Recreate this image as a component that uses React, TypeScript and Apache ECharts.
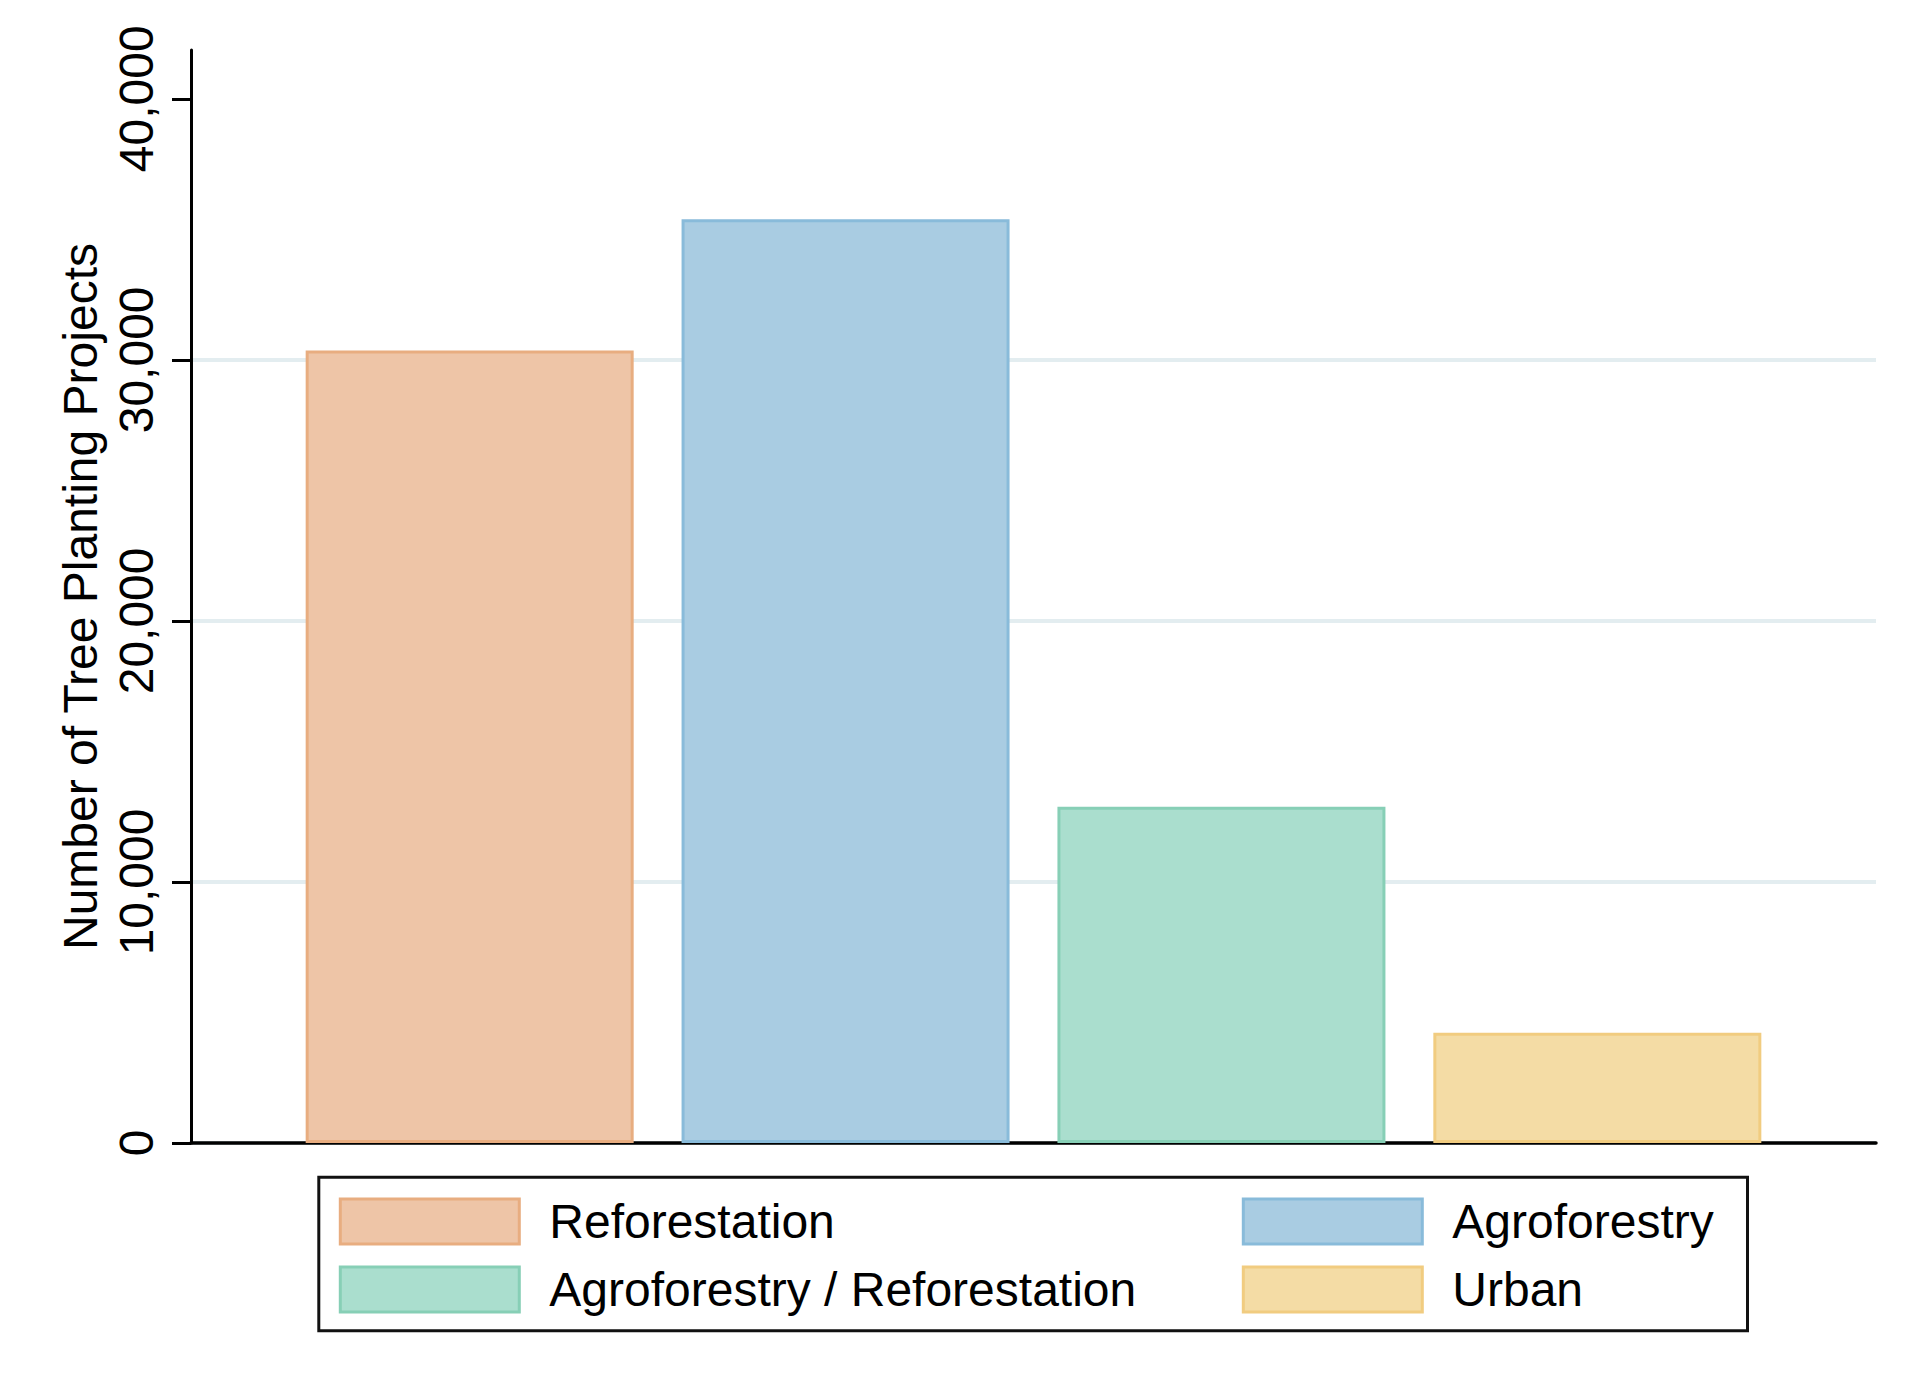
import React, { useEffect, useRef } from "react";
import * as echarts from "echarts";

const categories = ["Tree planting projects"];
const seriesNames = ["Reforestation", "Agroforestry", "Agroforestry / Reforestation", "Urban"];
const seriesValues = [30360, 35390, 12880, 4220];
const yTicks = [0, 10000, 20000, 30000, 40000];
const yMax = 41870;
const fillColors = ["#eec5a7", "#a9cce2", "#aadece", "#f4dca5"];
const borderColors = ["#e8ad80", "#89bbda", "#87cfb6", "#f1cc80"];

const FONT = '"Liberation Sans", Arial, Helvetica, sans-serif';

export default function App() {
  const ref = useRef<HTMLDivElement>(null);

  useEffect(() => {
    document.body.style.margin = "0";
    if (!ref.current) return;
    const chart = echarts.init(ref.current, null, { renderer: "svg" });

    const legendCommon = {
      orient: "vertical",
      icon: "rect",
      itemWidth: 179,
      itemHeight: 45,
      itemGap: 20,
      padding: 0,
      selectedMode: false,
      itemStyle: { borderWidth: 3 },
      textStyle: {
        fontSize: 48,
        fontFamily: FONT,
        color: "#000",
        padding: [0, 0, 0, 25],
      },
    };

    const option: any = {
      animation: false,
      backgroundColor: "#fff",
      grid: { left: 191, right: 50, top: 50, bottom: 257, containLabel: false },
      legend: [
        { ...legendCommon, left: 338.8, top: 1197.5, data: [seriesNames[0], seriesNames[2]] },
        { ...legendCommon, left: 1241.8, top: 1197.5, data: [seriesNames[1], seriesNames[3]] },
      ],
      xAxis: {
        type: "category",
        data: categories,
        axisLine: { show: true, lineStyle: { color: "#000", width: 3.5 } },
        axisTick: { show: false },
        axisLabel: { show: false },
        splitLine: { show: false },
      },
      yAxis: {
        type: "value",
        min: 0,
        max: yMax,
        name: "Number of Tree Planting Projects",
        nameLocation: "middle",
        nameGap: 84,
        nameTextStyle: { fontFamily: FONT, fontSize: 48, color: "#000" },
        axisLine: { show: true, lineStyle: { color: "#000", width: 3 } },
        axisTick: {
          show: true,
          length: 19,
          customValues: yTicks,
          lineStyle: { color: "#000", width: 3 },
        },
        axisLabel: {
          customValues: yTicks,
          rotate: 90,
          margin: 31,
          fontSize: 48,
          fontFamily: FONT,
          color: "#000",
          formatter: (v: number) => v.toLocaleString("en-US"),
        },
        splitLine: {
          show: true,
          showMaxLine: false,
          lineStyle: { color: "#e3edf0", width: 4 },
        },
      },
      graphic: [
        {
          type: "rect",
          shape: { x: 318.8, y: 1177.2, width: 1428.7, height: 153.6 },
          style: { fill: "none", stroke: "#111", lineWidth: 3 },
          z: 10,
        },
      ],
      series: seriesNames.map((name, i) => ({
        type: "bar",
        name,
        data: [seriesValues[i]],
        barWidth: 328,
        barGap: "14.6%",
        itemStyle: {
          color: fillColors[i],
          borderColor: borderColors[i],
          borderWidth: 3,
        },
      })),
    };

    chart.setOption(option);
    return () => chart.dispose();
  }, []);

  return <div ref={ref} style={{ width: 1926, height: 1400 }} />;
}
